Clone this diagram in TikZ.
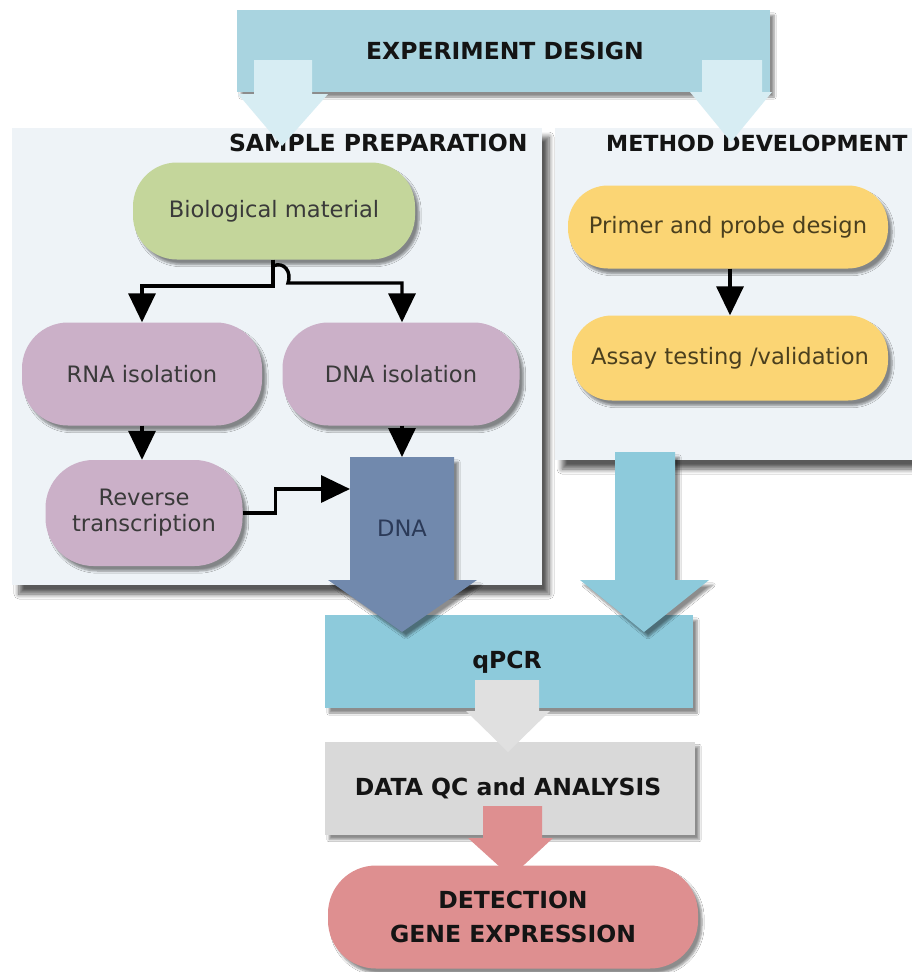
\documentclass[tikz,border=0pt]{standalone}
\usepackage{fontspec}
\setmainfont{DejaVu Sans}
\usetikzlibrary{arrows.meta,shadows.blur}
\definecolor{bannerc}{HTML}{A9D4E0}
\definecolor{bannerarr}{HTML}{D7EDF3}
\definecolor{panelc}{HTML}{EEF3F7}
\definecolor{greenc}{HTML}{C4D69B}
\definecolor{purplec}{HTML}{CBB0C8}
\definecolor{yellowc}{HTML}{FBD574}
\definecolor{dnac}{HTML}{7189AD}
\definecolor{bluec}{HTML}{8DCADB}
\definecolor{grayc}{HTML}{D9D9D9}
\definecolor{grayarr}{HTML}{E0E0E0}
\definecolor{redc}{HTML}{DE8F90}
\definecolor{txtc}{HTML}{3A3A3A}
\definecolor{ytxt}{HTML}{4A3F1E}
\definecolor{headc}{HTML}{141414}
\definecolor{dnatxt}{HTML}{2B3A58}
\begin{document}
\begin{tikzpicture}[x=1pt,y=-1pt,
  shad/.style={blur shadow={shadow xshift=4pt,shadow yshift=-5pt,shadow blur steps=6,shadow opacity=45}},
  bigshad/.style={blur shadow={shadow xshift=7pt,shadow yshift=-9pt,shadow blur steps=8,shadow opacity=65,shadow blur radius=5pt}},
  pill/.style={draw=none,rounded corners=#1,shad,font=\fontsize{22.6}{26}\selectfont,text=txtc,align=center},
  head/.style={font=\bfseries\fontsize{23.5}{28}\selectfont,text=headc},
  conn/.style={draw=black,line width=3.4pt,-{Triangle[width=27pt,length=29pt,fill=black]}},
  boxn/.style={draw=none,shad,inner sep=0pt}]
\useasboundingbox (0,0) rectangle (912,972);
\fill[white] (0,0) rectangle (912,972);
\begin{scope}
\clip (0,0) rectangle (912,972);
% panels
\path[fill=panelc,bigshad] (12,128) rectangle (542,585);
\path[fill=panelc,bigshad] (555,128) rectangle (930,460);
\node[head,anchor=east] (samplet) at (531,143) {SAMPLE PREPARATION};
\node[head,anchor=west,inner sep=0pt,font=\bfseries\fontsize{22.2}{27}\selectfont] (methodt) at (606,143) {METHOD DEVELOPMENT};
% banner
\node[boxn,fill=bannerc,minimum width=533pt,minimum height=82pt] (banner) at (503.5,51) {};
\path[fill=bannerarr] (254,60) -- (312,60) -- (312,94) -- (328,94) -- (282,146) -- (238,94) -- (254,94) -- cycle;
\path[fill=bannerarr] (702,60) -- (762,60) -- (762,92) -- (772,92) -- (731,142) -- (690,92) -- (702,92) -- cycle;
\node[head] (expt) at (505,51) {EXPERIMENT DESIGN};
% sample preparation nodes
\node[pill=44pt,fill=greenc,minimum width=282pt,minimum height=97pt] (bio) at (274,211) {Biological material};
\node[pill=46pt,fill=purplec,minimum width=240pt,minimum height=103pt] (rna) at (142,374) {RNA isolation};
\node[pill=46pt,fill=purplec,minimum width=237pt,minimum height=103pt] (dnaiso) at (401,374) {DNA isolation};
\node[pill=48pt,fill=purplec,minimum width=197pt,minimum height=106pt] (rev) at (144,513) {Reverse\\transcription};
% method nodes
\node[pill=40pt,fill=yellowc,text=ytxt,minimum width=320pt,minimum height=83pt] (primer) at (728,227) {Primer and probe design};
\node[pill=40pt,fill=yellowc,text=ytxt,minimum width=316pt,minimum height=85pt] (assay) at (730,358) {Assay testing /validation};
% qPCR and data boxes
\node[boxn,fill=bluec,minimum width=368pt,minimum height=93pt] (qpcr) at (509,661.5) {};
\node[head] (qpcrt) at (507,662) {qPCR};
\node[boxn,fill=grayc,minimum width=370pt,minimum height=93pt] (data) at (510,788) {};
% block arrows
\path[fill=dnac,shad] (350,457) -- (454,457) -- (454,580) -- (477,580) -- (402,632) -- (328,580) -- (350,580) -- cycle;
\node[font=\fontsize{22.6}{26}\selectfont,text=dnatxt] (dnat) at (402,528) {DNA};
\coordinate (dnatop) at (402,457);
\coordinate (dnaleft) at (350,489);
\path[fill=bluec,shad] (615,452) -- (675,452) -- (675,580) -- (709,580) -- (644,632) -- (580,580) -- (615,580) -- cycle;
\path[fill=grayarr] (475,680) -- (539,680) -- (539,711) -- (550,711) -- (508,752) -- (466,711) -- (475,711) -- cycle;
\node[head] (datat) at (508,788) {DATA QC and ANALYSIS};
\node[pill=48pt,fill=redc,minimum width=370pt,minimum height=103pt,font=\bfseries\fontsize{23.5}{34}\selectfont,text=headc] (det) at (513,917) {DETECTION\\GENE EXPRESSION};
\path[fill=redc] (483,806) -- (542,806) -- (542,838) -- (553,838) -- (511,877) -- (468,838) -- (483,838) -- cycle;
% connectors
\coordinate (j1) at (273,286);
\coordinate (h1) at (273,266);
\coordinate (h2) at (288,283);
\draw[conn] (bio.south -| j1) -- (j1) -| (rna.north);
\draw[conn] (h1) .. controls (284,261) and (292,272) .. (h2) -| (dnaiso.north -| dnatop);
\draw[conn] (rna.south) -- (rna.south |- rev.north);
\draw[conn] (dnaiso.south -| dnatop) -- (dnatop);
\draw[conn] (rev.east) -- ++(33,0) |- (dnaleft);
\draw[conn] (primer.south -| assay.north) -- (assay.north);
\end{scope}
\end{tikzpicture}
\end{document}
